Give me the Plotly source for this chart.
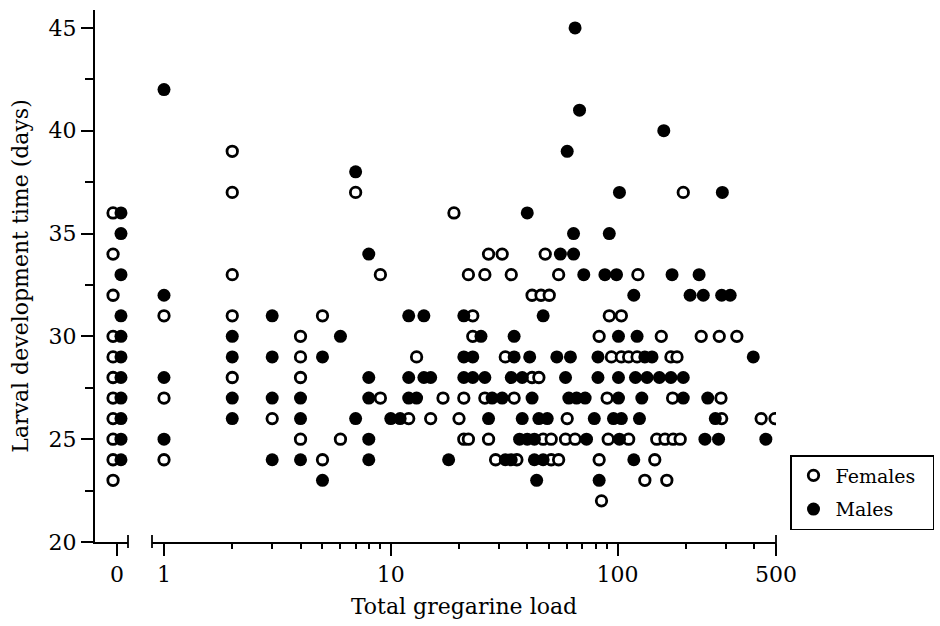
import plotly.graph_objects as go

# ---- data ----
# animals with zero gregarines (plotted on the separate "0" segment)
female_zero_days = [36, 34, 32, 30, 29, 28, 27, 26, 25, 24, 23]
male_zero_days = [36, 35, 33, 31, 30, 29, 28, 27, 26, 25, 24]

# animals with >= 1 gregarine (log axis)
female_load = [1, 1, 1, 2, 2, 2, 2, 2, 3, 4, 4, 4, 4, 5, 5, 6, 7, 9, 9,
               12, 13, 15, 17, 19, 20, 21, 21, 22, 23, 23, 26, 27,
               22, 26, 34, 55, 27, 31, 48, 42, 46, 50, 29, 36,
               32, 42, 45, 35, 47, 51, 59, 65, 91, 51, 55, 83,
               60, 90, 94, 104, 112, 122, 172, 183, 83, 92, 104,
               156, 234, 281, 336, 123, 195, 175, 286, 288, 430, 495,
               112, 149, 162, 176, 189, 146, 132, 165, 85]
female_days = [31, 27, 24, 39, 37, 33, 31, 28, 26, 30, 29, 28, 25, 31, 24, 25, 37, 33, 27,
               26, 29, 26, 27, 36, 26, 27, 25, 25, 31, 30, 27, 25,
               33, 33, 33, 33, 34, 34, 34, 32, 32, 32, 24, 24,
               29, 28, 28, 27, 25, 25, 25, 25, 25, 24, 24, 24,
               26, 27, 29, 29, 29, 29, 29, 29, 30, 31, 31,
               30, 30, 30, 30, 33, 37, 27, 27, 26, 26, 26,
               25, 25, 25, 25, 25, 24, 23, 23, 22]

male_load = [1, 1, 1, 1, 2, 2, 2, 2, 3, 3, 3, 3, 4, 4, 4, 5, 5, 6, 7, 7, 8, 8, 8, 8, 8,
             12, 14, 12, 14, 15, 12, 13, 10, 11, 18,
             21, 25, 35, 21, 23, 35, 41, 54, 62, 82, 132, 142, 397,
             21, 23, 26, 34, 38, 59, 82, 101, 120, 135, 153, 172, 195,
             28, 31, 42, 61, 66, 72, 101, 128, 195, 250,
             27, 38, 45, 49, 79, 96, 104, 125, 270,
             37, 40, 43, 73, 102, 243, 279, 451,
             32, 34, 43, 47, 118,
             44, 83,
             47, 101, 122,
             118, 209, 239, 288, 314,
             71, 88, 99, 174, 229,
             56, 64, 64, 92, 40, 102, 290, 60, 160, 68, 65]
male_days = [42, 32, 28, 25, 30, 29, 27, 26, 31, 29, 27, 24, 27, 26, 24, 29, 23, 30, 38, 26, 34, 28, 27, 25, 24,
             31, 31, 28, 28, 28, 27, 27, 26, 26, 24,
             31, 30, 30, 29, 29, 29, 29, 29, 29, 29, 29, 29, 29,
             28, 28, 28, 28, 28, 28, 28, 28, 28, 28, 28, 28, 28,
             27, 27, 27, 27, 27, 27, 27, 27, 27, 27,
             26, 26, 26, 26, 26, 26, 26, 26, 26,
             25, 25, 25, 25, 25, 25, 25, 25,
             24, 24, 24, 24, 24,
             23, 23,
             31, 30, 30,
             32, 32, 32, 32, 32,
             33, 33, 33, 33, 33,
             34, 34, 35, 35, 36, 37, 37, 39, 40, 41, 45]

y_ticks = [20, 25, 30, 35, 40, 45]
y_minor = [22.5, 27.5, 32.5, 37.5, 42.5]
x_ticks = [1, 10, 100, 500]
x_ticktext = ["1", "10", "100", "500"]
x_minor = [2, 3, 4, 5, 6, 7, 8, 9, 20, 30, 40, 50, 60, 70, 80, 90, 200, 300, 400]

# ---- style ----
FONT = "DejaVu Serif"
open_marker = dict(symbol="circle", size=10.5, color="white", line=dict(color="black", width=2.8))
fill_marker = dict(symbol="circle", size=13, color="black", line=dict(color="black", width=0))
ZERO_SHIFT_F = -0.12   # display nudge so that the two sexes at 0 do not hide each other
ZERO_SHIFT_M = 0.12

fig = go.Figure()
fig.add_trace(go.Scatter(x=[ZERO_SHIFT_F] * len(female_zero_days), y=female_zero_days,
                         mode="markers", marker=open_marker, xaxis="x", yaxis="y",
                         showlegend=False, legendgroup="f"))
fig.add_trace(go.Scatter(x=female_load, y=female_days, mode="markers", marker=open_marker,
                         xaxis="x2", yaxis="y", name="Females\u00a0\u00a0", legendgroup="f"))
fig.add_trace(go.Scatter(x=[ZERO_SHIFT_M] * len(male_zero_days), y=male_zero_days,
                         mode="markers", marker=fill_marker, xaxis="x", yaxis="y",
                         showlegend=False, legendgroup="m"))
fig.add_trace(go.Scatter(x=male_load, y=male_days, mode="markers", marker=fill_marker,
                         xaxis="x2", yaxis="y", name="Males", legendgroup="m"))

W, H = 940, 626
ML, MR, MT, MB = 95, 150, 10, 84
PW = W - ML - MR
PH = H - MT - MB
d0 = (128 - ML) / PW
d1a = (152 - ML) / PW
d1b = (776 - ML) / PW
log_left = -(164 - 152) / ((776 - 164) / 2.699)

axis_common = dict(showline=True, linecolor="black", linewidth=2, showgrid=False,
                   zeroline=False, ticks="outside", tickcolor="black", tickwidth=1.8,
                   tickfont=dict(family=FONT, size=22, color="black"))

fig.update_layout(
    width=W, height=H,
    margin=dict(l=ML, r=MR, t=MT, b=MB, autoexpand=False),
    paper_bgcolor="white", plot_bgcolor="white",
    font=dict(family=FONT, color="black"),
    xaxis=dict(domain=[0, d0], range=[-0.667, 0.333], tickmode="array", tickvals=[0],
               ticktext=["0"], ticklen=12, anchor="y", **axis_common),
    xaxis2=dict(type="log", domain=[d1a, d1b], range=[log_left, 2.699], tickmode="array",
                tickvals=x_ticks, ticktext=x_ticktext, ticklen=12, anchor="y",
                minor=dict(tickmode="array", tickvals=x_minor,
                           ticks="outside", ticklen=5, tickcolor="black", tickwidth=1.8),
                title=dict(text="Total gregarine load", font=dict(family=FONT, size=22),
                           standoff=12),
                **axis_common),
    yaxis=dict(range=[20, 45.87], tickmode="array", tickvals=y_ticks, ticklen=12, anchor="x",
               minor=dict(tickmode="array", tickvals=y_minor,
                          ticks="outside", ticklen=8, tickcolor="black", tickwidth=1.8),
               title=dict(text="Larval development time (days)", font=dict(family=FONT, size=22),
                          standoff=14),
               **axis_common),
    legend=dict(x=(790 - ML) / PW, y=(542 - 455) / PH, xanchor="left", yanchor="top",
                bordercolor="black", borderwidth=1.5, bgcolor="white",
                font=dict(family=FONT, size=19, color="black"), tracegroupgap=6,
                itemwidth=34),
)

# axis-break end caps
cap_lo, cap_hi = -6 / PH, 7 / PH
for xref, xv in (("x domain", 1), ("x2 domain", 0), ("x2 domain", 1)):
    fig.add_shape(type="line", xref=xref, yref="paper", x0=xv, x1=xv, y0=cap_lo, y1=cap_hi,
                  line=dict(color="black", width=1.8))

fig.write_html("out.html")
